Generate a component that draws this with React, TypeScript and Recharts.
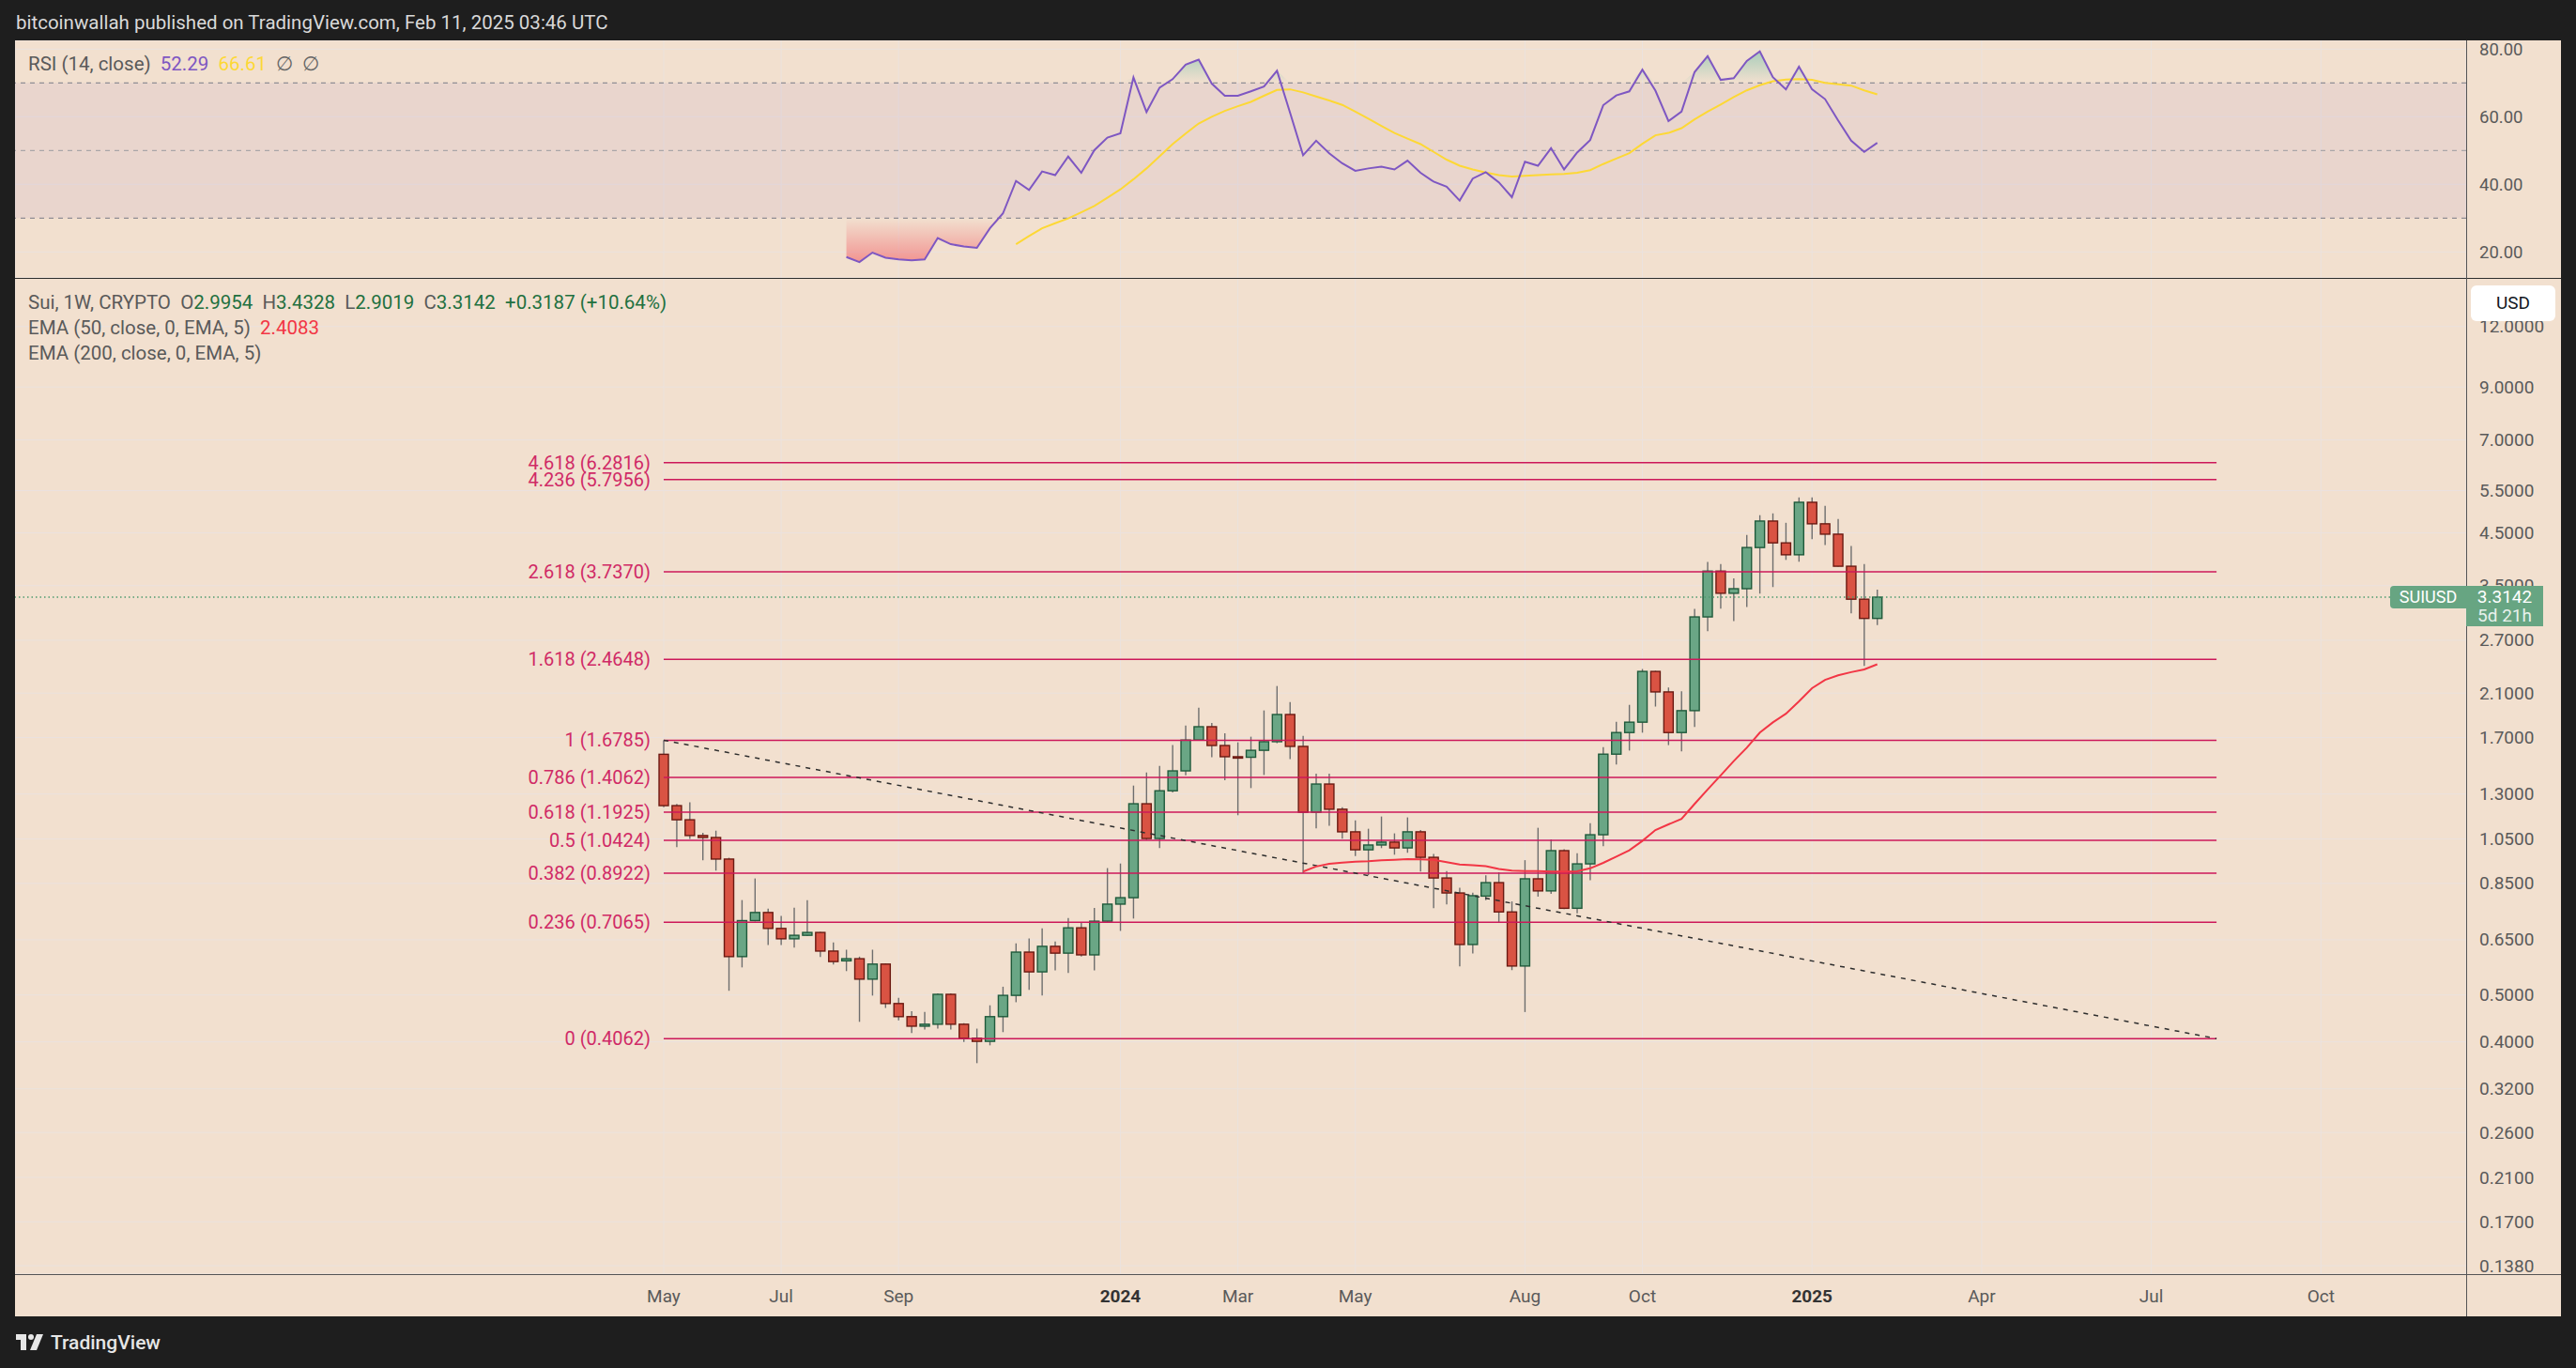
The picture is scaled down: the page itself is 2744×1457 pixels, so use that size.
import React from 'react';
import {
  ComposedChart,
  Line,
  Bar,
  Area,
  XAxis,
  YAxis,
  CartesianGrid,
  ReferenceLine,
  ReferenceArea,
} from 'recharts';

// SUI weekly, May 2023 – Feb 2025, with RSI and fib extension levels

document.body.style.margin = '0';

const FONT = 'Roboto, "Noto Sans", sans-serif';
const BG = '#f2e0cf';
const GRID = '#ebe2de';
const TEXT = '#5a5a5a';
const FIB = '#cc185a';

// week index 0 = week of May 1, 2023
const OPENS = [
  1.57, 1.23, 1.15, 1.067, 1.057, 0.954, 0.6, 0.712, 0.74, 0.686,
  0.653, 0.664, 0.673, 0.616, 0.588, 0.594, 0.539, 0.579, 0.48, 0.451,
  0.431, 0.435, 0.5015, 0.435, 0.407, 0.401, 0.451, 0.499, 0.613, 0.558,
  0.63, 0.61, 0.688, 0.605, 0.71, 0.77, 0.794, 1.241, 1.052, 1.32,
  1.451, 1.68, 1.79, 1.637, 1.552, 1.548, 1.6, 1.667, 1.897, 1.63,
  1.192, 1.363, 1.209, 1.086, 0.997, 1.02, 1.034, 1.006, 1.086, 0.962,
  0.872, 0.812, 0.6355, 0.8, 0.853, 0.742, 0.5737, 0.8686, 0.82, 0.993,
  0.755, 0.9325, 1.071, 1.571, 1.741, 1.829, 2.328, 2.112, 1.741, 1.932,
  3.017, 3.751, 3.376, 3.45, 4.196, 4.759, 4.29, 4.054, 5.203, 4.697,
  4.471, 3.839, 3.282, 2.9954,
];
const HIGHS = [
  1.6785, 1.24, 1.25, 1.081, 1.092, 0.96, 0.785, 0.87, 0.754, 0.728,
  0.757, 0.785, 0.675, 0.642, 0.62, 0.6, 0.62, 0.581, 0.493, 0.463,
  0.461, 0.504, 0.504, 0.437, 0.426, 0.476, 0.52, 0.639, 0.654, 0.686,
  0.645, 0.721, 0.707, 0.756, 0.914, 0.934, 1.353, 1.44, 1.486, 1.64,
  1.8, 1.96, 1.822, 1.735, 1.662, 1.707, 1.934, 2.172, 2.013, 1.714,
  1.432, 1.432, 1.22, 1.147, 1.102, 1.168, 1.078, 1.163, 1.096, 0.977,
  0.901, 0.832, 0.8135, 0.883, 0.896, 0.78, 0.949, 1.107, 1.048, 1.0,
  0.981, 1.131, 1.624, 1.832, 1.986, 2.355, 2.335, 2.157, 2.118, 3.134,
  3.917, 3.877, 3.624, 4.454, 4.894, 4.936, 4.72, 5.325, 5.325, 5.118,
  4.805, 4.226, 3.877, 3.4328,
];
const LOWS = [
  1.22, 1.01, 1.05, 0.948, 0.903, 0.51, 0.57, 0.709, 0.634, 0.634,
  0.626, 0.662, 0.599, 0.578, 0.56, 0.44, 0.4985, 0.47, 0.443, 0.417,
  0.424, 0.426, 0.424, 0.4, 0.3615, 0.3935, 0.419, 0.483, 0.512, 0.4985,
  0.562, 0.555, 0.6, 0.562, 0.705, 0.678, 0.719, 1.045, 1.005, 1.31,
  1.421, 1.675, 1.549, 1.388, 1.175, 1.337, 1.423, 1.655, 1.535, 0.892,
  1.104, 1.118, 1.051, 0.968, 0.884, 1.005, 0.974, 0.983, 0.899, 0.755,
  0.769, 0.5725, 0.609, 0.785, 0.7065, 0.5626, 0.461, 0.798, 0.809, 0.752,
  0.737, 0.863, 1.014, 1.4955, 1.598, 1.74, 1.97, 1.64, 1.592, 1.787,
  2.819, 3.139, 2.958, 3.164, 3.37, 3.477, 3.956, 3.922, 4.368, 4.247,
  3.83, 3.067, 2.39, 2.9019,
];
const CLOSES = [
  1.23, 1.15, 1.067, 1.057, 0.954, 0.6, 0.712, 0.74, 0.686, 0.653,
  0.664, 0.673, 0.616, 0.586, 0.594, 0.539, 0.579, 0.48, 0.451, 0.431,
  0.435, 0.5015, 0.435, 0.407, 0.401, 0.451, 0.499, 0.613, 0.558, 0.63,
  0.61, 0.688, 0.605, 0.71, 0.77, 0.794, 1.241, 1.052, 1.32, 1.451,
  1.68, 1.79, 1.637, 1.552, 1.548, 1.6, 1.667, 1.897, 1.63, 1.192,
  1.363, 1.209, 1.086, 0.997, 1.02, 1.034, 1.006, 1.086, 0.962, 0.872,
  0.812, 0.6355, 0.8015, 0.853, 0.742, 0.5737, 0.8686, 0.82, 0.993, 0.755,
  0.9325, 1.071, 1.571, 1.741, 1.829, 2.328, 2.112, 1.741, 1.932, 3.017,
  3.751, 3.376, 3.45, 4.196, 4.759, 4.29, 4.054, 5.203, 4.697, 4.471,
  3.839, 3.282, 2.9954, 3.3142,
];

// EMA 50 starts at week 49
const EMA_START = 49;
const EMA50 = [
  0.899, 0.921, 0.933, 0.938, 0.942, 0.944, 0.948, 0.951, 0.954, 0.953,
  0.951, 0.94, 0.93, 0.927, 0.922, 0.91, 0.903, 0.901, 0.901, 0.899,
  0.899, 0.9, 0.913, 0.937, 0.965, 0.995, 1.04, 1.095, 1.125, 1.155,
  1.24, 1.328, 1.42, 1.52, 1.62, 1.74, 1.827, 1.904, 2.02, 2.15,
  2.237, 2.285, 2.32, 2.35, 2.4083,
];

// RSI 14 starts at week 14, its MA at week 27
const RSI_START = 14;
const RSI = [
  18.5, 17.0, 19.8, 18.3, 17.8, 17.5, 17.8, 24.1, 22.3, 21.6,
  21.2, 27.0, 31.4, 41.0, 38.3, 43.8, 42.7, 48.2, 43.4, 50.1,
  53.8, 55.1, 71.6, 61.4, 68.6, 71.1, 75.4, 76.9, 69.8, 66.2,
  66.2, 67.5, 68.9, 73.6, 61.2, 48.6, 52.9, 49.2, 46.2, 44.0,
  44.7, 45.2, 44.4, 47.0, 43.4, 40.8, 39.3, 35.2, 41.7, 43.6,
  40.6, 36.2, 46.7, 45.5, 50.7, 44.4, 49.4, 53.1, 63.4, 66.3,
  67.5, 73.9, 67.7, 58.7, 61.5, 73.2, 77.9, 70.9, 71.4, 76.5,
  79.3, 71.7, 68.1, 74.8, 68.1, 65.2, 58.9, 52.9, 49.6, 52.29,
];
const RSI_MA_START = 27;
const RSI_MA = [
  22.3, 24.7, 27.0, 28.5, 29.9, 31.7, 33.6, 36.0, 38.5, 41.5,
  44.7, 48.3, 51.9, 55.0, 58.0, 60.0, 61.7, 63.1, 64.4, 66.2,
  67.9, 68.1, 67.2, 66.0, 64.8, 63.5, 61.5, 59.4, 57.3, 55.2,
  53.5, 51.9, 49.6, 47.3, 45.5, 44.4, 43.5, 42.7, 42.3, 42.5,
  42.7, 42.9, 43.1, 43.4, 44.2, 46.0, 47.6, 49.2, 52.0, 54.5,
  55.2, 56.6, 59.2, 61.5, 63.6, 65.8, 67.8, 69.3, 70.5, 71.0,
  71.1, 70.9, 70.0, 69.6, 69.2, 67.8, 66.61,
];

const FIB_LEVELS = ['4.618', '4.236', '2.618', '1.618', '1', '0.786', '0.618', '0.5', '0.382', '0.236', '0'];
const FIB_PRICES = [6.2816, 5.7956, 3.737, 2.4648, 1.6785, 1.4062, 1.1925, 1.0424, 0.8922, 0.7065, 0.4062];
const FIB_END = 119;

const MONTH_IDX = [0, 9, 18, 35, 44, 53, 66, 75, 88, 101, 114, 127];
const MONTH_LABELS = ['May', 'Jul', 'Sep', '2024', 'Mar', 'May', 'Aug', 'Oct', '2025', 'Apr', 'Jul', 'Oct'];

const PRICE_TICKS = [0.138, 0.17, 0.21, 0.26, 0.32, 0.4, 0.5, 0.65, 0.85, 1.05, 1.3, 1.7, 2.1, 2.7, 3.5, 4.5, 5.5, 7, 9, 12];
const RSI_TICKS = [20, 40, 60, 80];

const LAST_PRICE = 3.3142;

const X_DOMAIN: [number, number] = [-49.71, 138.13];
const PRICE_DOMAIN: [number, number] = [0.1326, 15.12];
const RSI_DOMAIN: [number, number] = [12.31, 82.58];

const rsiAt = (i: number) => (i >= RSI_START && i - RSI_START < RSI.length ? RSI[i - RSI_START] : null);

const rows = CLOSES.map((c, i) => {
  const r = rsiAt(i);
  const prev = rsiAt(i - 1);
  const next = rsiAt(i + 1);
  let os: number[] | null = null;
  if (r !== null && r < 30) os = [r, 30];
  else if (r !== null && prev !== null && prev < 30) os = [30, 30];
  let ob: number[] | null = null;
  if (r !== null && r > 70) ob = [70, r];
  else if (r !== null && ((prev !== null && prev > 70) || (next !== null && next > 70))) ob = [70, 70];
  return {
    i,
    o: OPENS[i],
    h: HIGHS[i],
    l: LOWS[i],
    c,
    range: [LOWS[i], HIGHS[i]],
    ema: i >= EMA_START ? EMA50[i - EMA_START] : null,
    rsi: r,
    rsiMa: i >= RSI_MA_START ? RSI_MA[i - RSI_MA_START] : null,
    os,
    ob,
  };
});

const Candle = (props: any) => {
  const { x, y, width, height, payload } = props;
  if (x == null || y == null) return null;
  const top = Math.min(y, y + height);
  const h = Math.abs(height);
  const lh = Math.log(payload.h);
  const ll = Math.log(payload.l);
  const toY = (v: number) => top + ((lh - Math.log(v)) / (lh - ll || 1)) * h;
  const cx = x + width / 2;
  const up = payload.c >= payload.o;
  const bTop = toY(Math.max(payload.o, payload.c));
  const bBot = toY(Math.min(payload.o, payload.c));
  const bh = Math.max(bBot - bTop, 1.5);
  return (
    <g>
      <line x1={cx} x2={cx} y1={top} y2={top + h} stroke="#6e6e6e" strokeWidth={1.4} />
      <rect
        x={cx - 5}
        y={bTop}
        width={10}
        height={bh}
        fill={up ? '#6aa685' : '#d95343'}
        stroke={up ? '#1f5a3b' : '#6b1a12'}
        strokeWidth={1.4}
      />
    </g>
  );
};

const PriceTick = ({ x, y, payload }: any) => (
  <text x={x + 14} y={y} dominantBaseline="central" fontSize={19} fill={TEXT} fontFamily={FONT}>
    {Number(payload.value).toFixed(4)}
  </text>
);

const RsiTick = ({ x, y, payload }: any) => (
  <text x={x + 14} y={y + 1} dominantBaseline="central" fontSize={18.5} fill={TEXT} fontFamily={FONT}>
    {Number(payload.value).toFixed(2)}
  </text>
);

const TimeTick = ({ x, y, payload }: any) => {
  const label = MONTH_LABELS[MONTH_IDX.indexOf(payload.value)] ?? '';
  const bold = label.length === 4;
  return (
    <text
      x={x}
      y={y + 23}
      textAnchor="middle"
      dominantBaseline="central"
      fontSize={19}
      fontWeight={bold ? 700 : 400}
      fill={bold ? '#333' : TEXT}
      fontFamily={FONT}
    >
      {label}
    </text>
  );
};

const GREEN = '#22703f';

export default function App() {
  const chartW = 2712;
  return (
    <div
      style={{
        position: 'relative',
        width: 2744,
        height: 1457,
        background: '#1e1e1e',
        fontFamily: FONT,
        overflow: 'hidden',
      }}
    >
      <div style={{ position: 'absolute', left: 17, top: 12, fontSize: 20.5, color: '#d9d9d9', whiteSpace: 'nowrap' }}>
        bitcoinwallah published on TradingView.com, Feb 11, 2025 03:46 UTC
      </div>

      <div style={{ position: 'absolute', left: 16, top: 43, width: chartW, height: 1359, background: BG }} />

      {/* RSI pane */}
      <div style={{ position: 'absolute', left: 16, top: 43 }}>
        <ComposedChart width={chartW} height={253} data={rows} margin={{ top: 0, right: 0, bottom: 0, left: 0 }}>
          <defs>
            <linearGradient id="osGrad" x1="0" y1="0" x2="0" y2="1">
              <stop offset="0%" stopColor="#f23645" stopOpacity={0} />
              <stop offset="100%" stopColor="#f23645" stopOpacity={0.45} />
            </linearGradient>
            <linearGradient id="obGrad" x1="0" y1="0" x2="0" y2="1">
              <stop offset="0%" stopColor="#22ab94" stopOpacity={0.35} />
              <stop offset="100%" stopColor="#22ab94" stopOpacity={0} />
            </linearGradient>
          </defs>
          <CartesianGrid stroke={GRID} />
          <XAxis dataKey="i" type="number" domain={X_DOMAIN} ticks={MONTH_IDX} hide allowDataOverflow />
          <YAxis
            orientation="right"
            width={101}
            domain={RSI_DOMAIN}
            ticks={RSI_TICKS}
            interval={0}
            allowDataOverflow
            axisLine={false}
            tickLine={false}
            tickSize={0}
            tickMargin={0}
            tick={<RsiTick />}
          />
          <ReferenceArea y1={30} y2={70} fill="#7e57c2" fillOpacity={0.08} stroke="none" />
          <ReferenceLine y={70} stroke="#787b86" strokeDasharray="5 5" />
          <ReferenceLine y={50} stroke="#9a9a9f" strokeDasharray="5 5" />
          <ReferenceLine y={30} stroke="#787b86" strokeDasharray="5 5" />
          <Area dataKey="os" stroke="none" fill="url(#osGrad)" fillOpacity={1} isAnimationActive={false} />
          <Area dataKey="ob" stroke="none" fill="url(#obGrad)" fillOpacity={1} isAnimationActive={false} />
          <Line dataKey="rsiMa" stroke="#fdd835" strokeWidth={2} dot={false} isAnimationActive={false} />
          <Line dataKey="rsi" stroke="#7e57c2" strokeWidth={2} dot={false} isAnimationActive={false} />
        </ComposedChart>
      </div>

      {/* price pane */}
      <div style={{ position: 'absolute', left: 16, top: 296 }}>
        <ComposedChart width={chartW} height={1106} data={rows} margin={{ top: 0, right: 0, bottom: 0, left: 0 }}>
          <CartesianGrid stroke={GRID} />
          <XAxis
            dataKey="i"
            type="number"
            domain={X_DOMAIN}
            ticks={MONTH_IDX}
            interval={0}
            allowDataOverflow
            height={45}
            axisLine={false}
            tickLine={false}
            tickSize={0}
            tickMargin={0}
            tick={<TimeTick />}
          />
          <YAxis
            orientation="right"
            width={101}
            scale="log"
            domain={PRICE_DOMAIN}
            ticks={PRICE_TICKS}
            interval={0}
            allowDataOverflow
            axisLine={false}
            tickLine={false}
            tickSize={0}
            tickMargin={0}
            tick={<PriceTick />}
          />
          {FIB_PRICES.map((p, k) => (
            <ReferenceLine
              key={k}
              segment={[{ x: 0, y: p }, { x: FIB_END, y: p }]}
              stroke={FIB}
              strokeWidth={1.5}
              label={{
                value: `${FIB_LEVELS[k]} (${p.toFixed(4)})`,
                position: 'left',
                offset: 14,
                fill: '#d02a66',
                fontSize: 20,
                fontFamily: FONT,
              }}
            />
          ))}
          <ReferenceLine
            segment={[{ x: 0, y: FIB_PRICES[4] }, { x: FIB_END, y: FIB_PRICES[10] }]}
            stroke="#2e2e2e"
            strokeWidth={1.5}
            strokeDasharray="5 6"
          />
          <ReferenceLine y={LAST_PRICE} stroke="#4f9b6f" strokeWidth={1.3} strokeDasharray="1.5 3" />
          <Line dataKey="ema" stroke="#f23645" strokeWidth={2} dot={false} isAnimationActive={false} />
          <Bar dataKey="range" barSize={10} shape={<Candle />} isAnimationActive={false} />
        </ComposedChart>
      </div>

      {/* pane separators */}
      <div style={{ position: 'absolute', left: 16, top: 296, width: chartW, height: 1, background: '#2e2e2e' }} />
      <div style={{ position: 'absolute', left: 16, top: 1357, width: chartW, height: 1, background: '#555' }} />
      <div style={{ position: 'absolute', left: 2627, top: 43, width: 1, height: 1359, background: '#555' }} />

      {/* legends */}
      <div style={{ position: 'absolute', left: 30, top: 56, fontSize: 20.5, color: TEXT, whiteSpace: 'nowrap' }}>
        RSI (14, close)&nbsp; <span style={{ color: '#7e57c2' }}>52.29</span>&nbsp;{' '}
        <span style={{ color: '#fdd835' }}>66.61</span>&nbsp; <span style={{ color: '#666' }}>∅&nbsp; ∅</span>
      </div>
      <div
        style={{
          position: 'absolute',
          left: 30,
          top: 309,
          fontSize: 20.5,
          color: TEXT,
          whiteSpace: 'nowrap',
          lineHeight: '27px',
        }}
      >
        <div>
          Sui, 1W, CRYPTO&nbsp;&nbsp;O<span style={{ color: GREEN }}>2.9954</span>&nbsp;&nbsp;H
          <span style={{ color: GREEN }}>3.4328</span>&nbsp;&nbsp;L<span style={{ color: GREEN }}>2.9019</span>
          &nbsp;&nbsp;C<span style={{ color: GREEN }}>3.3142</span>&nbsp;&nbsp;
          <span style={{ color: GREEN }}>+0.3187 (+10.64%)</span>
        </div>
        <div>
          EMA (50, close, 0, EMA, 5)&nbsp;&nbsp;<span style={{ color: '#f23645' }}>2.4083</span>
        </div>
        <div>EMA (200, close, 0, EMA, 5)</div>
      </div>

      {/* last price labels */}
      <div
        style={{
          position: 'absolute',
          left: 2546,
          top: 624,
          width: 81,
          height: 24,
          background: '#67a582',
          borderRadius: '4px 0 0 4px',
          color: '#fff',
          fontSize: 18,
          lineHeight: '24px',
          textAlign: 'center',
        }}
      >
        SUIUSD
      </div>
      <div
        style={{
          position: 'absolute',
          left: 2627,
          top: 624,
          width: 82,
          height: 43,
          background: '#67a582',
          color: '#fff',
          fontSize: 19,
          lineHeight: '20px',
          textAlign: 'center',
          paddingTop: 2,
          boxSizing: 'border-box',
        }}
      >
        <div>3.3142</div>
        <div style={{ opacity: 0.85 }}>5d 21h</div>
      </div>
      <div
        style={{
          position: 'absolute',
          left: 2632,
          top: 304,
          width: 90,
          height: 38,
          background: '#fff',
          borderRadius: 6,
          color: '#131722',
          fontSize: 19,
          lineHeight: '38px',
          textAlign: 'center',
        }}
      >
        USD
      </div>

      {/* footer logo */}
      <div style={{ position: 'absolute', left: 17, top: 1418, display: 'flex', alignItems: 'center', whiteSpace: 'nowrap' }}>
        <svg width={30} height={22} viewBox="0 0 30 22">
          <rect x={0} y={2} width={11} height={6} fill="#e6e6e6" />
          <rect x={5} y={2} width={6} height={17} fill="#e6e6e6" />
          <circle cx={16} cy={5} r={3} fill="#e6e6e6" />
          <polygon points="22,2 29,2 22,19 15,19" fill="#e6e6e6" />
        </svg>
        <span style={{ marginLeft: 7, color: '#e6e6e6', fontSize: 21, fontWeight: 500 }}>TradingView</span>
      </div>
    </div>
  );
}
